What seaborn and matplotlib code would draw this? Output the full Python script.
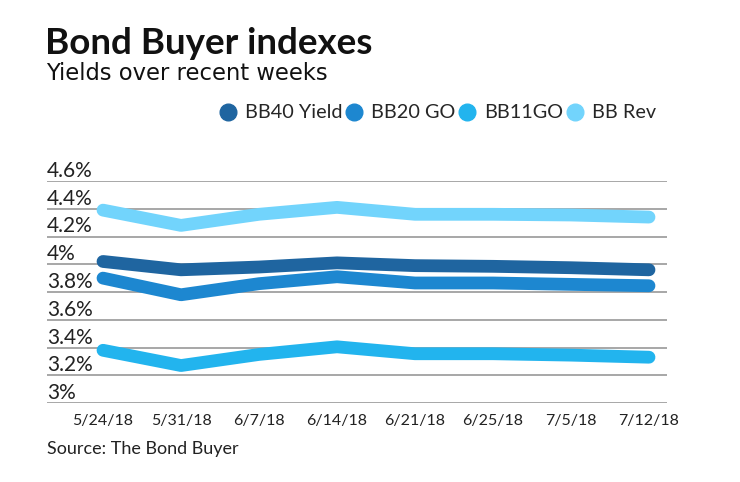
import pandas as pd
import numpy as np
import matplotlib
matplotlib.use("Agg")
import matplotlib.pyplot as plt
import seaborn as sns
from matplotlib.lines import Line2D

# chart data
dates = ["5/24/18", "5/31/18", "6/7/18", "6/14/18", "6/21/18", "6/25/18", "7/5/18", "7/12/18"]
bb40_yield = [4.02, 3.96, 3.98, 4.01, 3.99, 3.985, 3.975, 3.96]
bb20_go = [3.90, 3.78, 3.86, 3.91, 3.865, 3.865, 3.855, 3.845]
bb11_go = [3.38, 3.27, 3.35, 3.405, 3.355, 3.355, 3.345, 3.33]
bb_rev = [4.39, 4.28, 4.36, 4.41, 4.36, 4.36, 4.355, 4.34]
series_names = ["BB40 Yield", "BB20 GO", "BB11GO", "BB Rev"]
colors = ["#1f65a0", "#1d87d0", "#22b4ee", "#72d4fc"]
y_ticks = [3.0, 3.2, 3.4, 3.6, 3.8, 4.0, 4.2, 4.4, 4.6]

df = pd.DataFrame({
    "idx": list(range(len(dates))) * 4,
    "value": bb40_yield + bb20_go + bb11_go + bb_rev,
    "series": np.repeat(series_names, len(dates)),
})

sns.set_style("white")
plt.rcParams["font.family"] = ["Lato", "DejaVu Sans"]

fig = plt.figure(figsize=(7.4, 4.82), dpi=100)
ax = fig.add_axes([47 / 740, 1 - 403 / 482, 620 / 740, 222 / 482])

for v in y_ticks:
    ax.axhline(v, color="#8f8f8f", lw=1.1, zorder=1)
    ax.text(0, v, f"{v:g}%", transform=ax.get_yaxis_transform(),
            ha="left", va="bottom", fontsize=15, color="#222222")

sns.lineplot(data=df, x="idx", y="value", hue="series", palette=colors,
             hue_order=series_names, linewidth=9.2, legend=False, ax=ax,
             zorder=3)
for ln in ax.lines:
    if ln.get_linewidth() > 5:
        ln.set_solid_capstyle("round")
        ln.set_solid_joinstyle("round")
        ln.set_clip_on(False)

ax.set_xlim((47 - 103) / 78, (667 - 103) / 78)
ax.set_ylim(3.0, 4.6)
ax.set_yticks([])
ax.set_xticks(range(len(dates)))
ax.set_xticklabels(dates, fontsize=11.5, color="#222222")
ax.tick_params(axis="x", length=0, pad=8)
ax.set_xlabel("")
ax.set_ylabel("")
sns.despine(ax=ax, left=True, bottom=True)

handles = [Line2D([], [], marker="o", ls="", color=c, markersize=12) for c in colors]
fig.legend(handles, series_names, loc="center left", bbox_to_anchor=(200 / 740, 1 - 113 / 482),
           ncol=4, frameon=False, fontsize=14.3, handletextpad=0.35, columnspacing=0.1,
           handlelength=1.0)

fig.text(45 / 740, 1 - 44 / 482, "Bond Buyer indexes", fontsize=26.5, fontweight="bold",
         va="center", ha="left", color="#111111")
fig.text(46 / 740, 1 - 73 / 482, "Yields over recent weeks", fontsize=16.3,
         family="DejaVu Sans", va="center", ha="left", color="#111111")
fig.text(47 / 740, 1 - 449 / 482, "Source: The Bond Buyer", fontsize=13,
         va="center", ha="left", color="#222222")

fig.savefig("out.png", dpi=100)
